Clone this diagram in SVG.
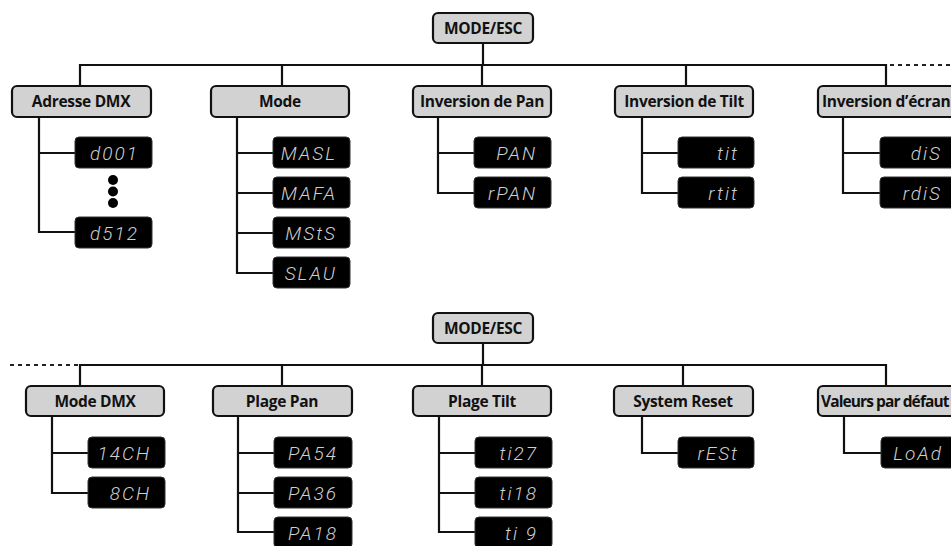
<svg xmlns="http://www.w3.org/2000/svg" width="951" height="546" viewBox="0 0 951 546">
<style>
.hdr{fill:#d2d2d2;stroke:#111;stroke-width:2.2}
.ht{font-family:"Open Sans","Liberation Sans",Arial,sans-serif;font-weight:700;font-size:15.5px;fill:#111;text-anchor:middle;letter-spacing:-0.3px}
.disp{fill:#000;stroke:#333;stroke-width:1}
.dt{font-family:Roboto,"DejaVu Sans",sans-serif;font-weight:300;font-style:italic;font-size:19px;fill:#cfcfcf;text-anchor:end;letter-spacing:2px}
.ln{fill:none;stroke:#111;stroke-width:2.2}
.dash{fill:none;stroke:#222;stroke-width:2.2;stroke-dasharray:4 4}
</style>
<rect width="951" height="546" fill="#fff"/>
<g id="connectors">
  <path class="ln" d="M483 43V65M80 86V65H886V86M282 65V86M482 65V86M686 65V86"/>
  <path class="dash" d="M890 65H951"/>
  <path class="ln" d="M39 117V232H75M39 153H75"/>
  <path class="ln" d="M237 117V273H273M237 153H273M237 193H273M237 233H273"/>
  <path class="ln" d="M438 117V193H474M438 153H474"/>
  <path class="ln" d="M642 117V193H678M642 153H678"/>
  <path class="ln" d="M843 117V193H880M843 153H880"/>
  <path class="ln" d="M483 343V365M80 386V365H886V386M282 365V386M482 365V386M683 365V386"/>
  <path class="dash" d="M10 365H78"/>
  <path class="ln" d="M52 416V493H88M52 453H88"/>
  <path class="ln" d="M238 416V532H274M238 453H274M238 493H274"/>
  <path class="ln" d="M439 416V532H475M439 453H475M439 493H475"/>
  <path class="ln" d="M642 416V453H678"/>
  <path class="ln" d="M844 416V453H881"/>
</g>
<g id="mode-esc-top"><rect class="hdr" x="433" y="13" width="100" height="30" rx="5"/><text class="ht" x="483" y="34">MODE/ESC</text></g>
<g id="adresse-dmx"><rect class="hdr" x="12" y="86" width="139" height="31" rx="5"/><text class="ht" x="81" y="107">Adresse DMX</text></g>
<g id="mode"><rect class="hdr" x="211" y="86" width="138" height="31" rx="5"/><text class="ht" x="280" y="107">Mode</text></g>
<g id="inv-pan"><rect class="hdr" x="413" y="86" width="138" height="31" rx="5"/><text class="ht" x="482" y="107">Inversion de Pan</text></g>
<g id="inv-tilt"><rect class="hdr" x="615" y="86" width="138" height="31" rx="5"/><text class="ht" x="684" y="107">Inversion de Tilt</text></g>
<g id="inv-ecran"><rect class="hdr" x="818" y="86" width="140" height="31" rx="5"/><text class="ht" x="822" y="107" style="text-anchor:start">Inversion d’écran</text></g>

<g id="d001"><rect class="disp" x="75" y="137" width="77" height="31" rx="4"/><text class="dt" x="139" y="160">d001</text></g>
<g id="dots"><circle cx="113" cy="180" r="5"/><circle cx="113" cy="191.5" r="5"/><circle cx="113" cy="203" r="5"/></g>
<g id="d512"><rect class="disp" x="75" y="217" width="77" height="31" rx="4"/><text class="dt" x="139" y="240">d512</text></g>

<g id="masl"><rect class="disp" x="273" y="137" width="77" height="31" rx="4"/><text class="dt" x="337" y="160">MASL</text></g>
<g id="mafa"><rect class="disp" x="273" y="177" width="77" height="31" rx="4"/><text class="dt" x="337" y="200">MAFA</text></g>
<g id="msts"><rect class="disp" x="273" y="217" width="77" height="31" rx="4"/><text class="dt" x="337" y="240">MStS</text></g>
<g id="slau"><rect class="disp" x="273" y="257" width="77" height="31" rx="4"/><text class="dt" x="337" y="280">SLAU</text></g>

<g id="pan"><rect class="disp" x="474" y="137" width="77" height="31" rx="4"/><text class="dt" x="537" y="160">PAN</text></g>
<g id="rpan"><rect class="disp" x="474" y="177" width="77" height="31" rx="4"/><text class="dt" x="537" y="200">rPAN</text></g>

<g id="tit"><rect class="disp" x="678" y="137" width="76" height="31" rx="4"/><text class="dt" x="739" y="160">tit</text></g>
<g id="rtit"><rect class="disp" x="678" y="177" width="76" height="31" rx="4"/><text class="dt" x="739" y="200">rtit</text></g>

<g id="dis"><rect class="disp" x="880" y="137" width="77" height="31" rx="4"/><text class="dt" x="942" y="160">diS</text></g>
<g id="rdis"><rect class="disp" x="880" y="177" width="77" height="31" rx="4"/><text class="dt" x="942" y="200">rdiS</text></g>

<g id="mode-esc-bottom"><rect class="hdr" x="433" y="313" width="100" height="30" rx="5"/><text class="ht" x="483" y="334">MODE/ESC</text></g>
<g id="mode-dmx"><rect class="hdr" x="26" y="386" width="138" height="30" rx="5"/><text class="ht" x="95" y="407">Mode DMX</text></g>
<g id="plage-pan"><rect class="hdr" x="213" y="386" width="139" height="30" rx="5"/><text class="ht" x="282" y="407">Plage Pan</text></g>
<g id="plage-tilt"><rect class="hdr" x="413" y="386" width="138" height="30" rx="5"/><text class="ht" x="482" y="407">Plage Tilt</text></g>
<g id="system-reset"><rect class="hdr" x="614" y="386" width="139" height="30" rx="5"/><text class="ht" x="683" y="407">System Reset</text></g>
<g id="valeurs"><rect class="hdr" x="818" y="386" width="140" height="30" rx="5"/><text class="ht" x="821" y="407" style="text-anchor:start;letter-spacing:-0.9px">Valeurs par défaut</text></g>

<g id="ch14"><rect class="disp" x="88" y="437" width="77" height="31" rx="4"/><text class="dt" x="151" y="460">14CH</text></g>
<g id="ch8"><rect class="disp" x="88" y="477" width="77" height="31" rx="4"/><text class="dt" x="151" y="500">8CH</text></g>

<g id="pa54"><rect class="disp" x="274" y="437" width="78" height="31" rx="4"/><text class="dt" x="338" y="460">PA54</text></g>
<g id="pa36"><rect class="disp" x="274" y="477" width="78" height="31" rx="4"/><text class="dt" x="338" y="500">PA36</text></g>
<g id="pa18"><rect class="disp" x="274" y="517" width="78" height="31" rx="4"/><text class="dt" x="338" y="540">PA18</text></g>

<g id="ti27"><rect class="disp" x="475" y="437" width="77" height="31" rx="4"/><text class="dt" x="538" y="460">ti27</text></g>
<g id="ti18"><rect class="disp" x="475" y="477" width="77" height="31" rx="4"/><text class="dt" x="538" y="500">ti18</text></g>
<g id="ti9"><rect class="disp" x="475" y="517" width="77" height="31" rx="4"/><text class="dt" x="538" y="540" xml:space="preserve">ti 9</text></g>

<g id="rest"><rect class="disp" x="678" y="437" width="76" height="31" rx="4"/><text class="dt" x="739" y="460">rESt</text></g>
<g id="load"><rect class="disp" x="881" y="437" width="77" height="31" rx="4"/><text class="dt" x="943" y="460">LoAd</text></g>
</svg>
